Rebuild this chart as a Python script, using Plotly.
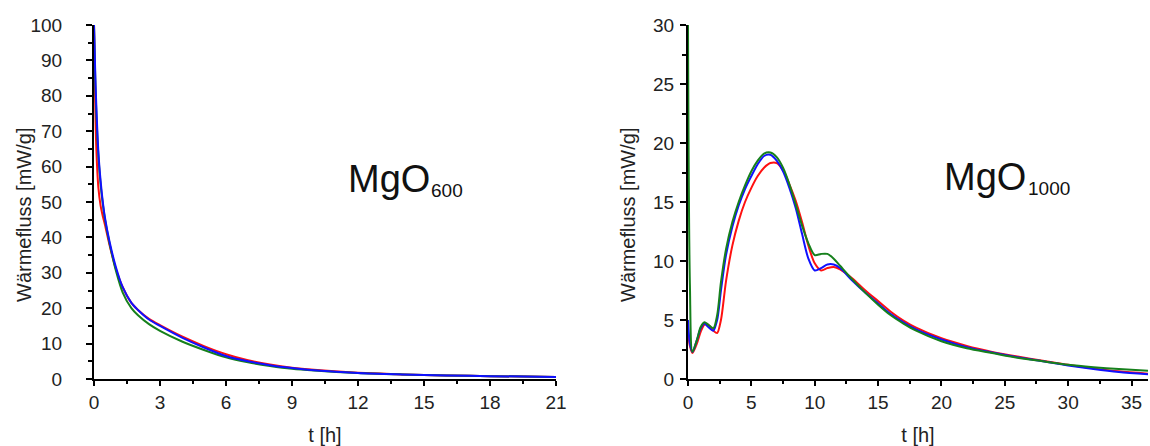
import plotly.graph_objects as go
from plotly.subplots import make_subplots

# ---- data: MgO600 (left) ----
t600 = [0, 0.05, 0.1, 0.2, 0.3, 0.4, 0.5, 0.7, 1.0, 1.3, 1.7, 2.0, 2.5, 3, 4, 5, 6, 7, 8, 9, 10, 12, 14, 16, 18, 21]
red600 = [100, 80, 66, 54, 49, 46, 43.5, 38, 31, 26, 21.5, 19.5, 17, 15.2, 12, 9.3, 7.0, 5.3, 4.1, 3.2, 2.6, 1.8, 1.3, 1.0, 0.8, 0.6]
green600 = [100, 86, 76, 63, 55, 49.5, 45, 38.5, 30.5, 24.5, 20, 18, 15.5, 13.6, 10.6, 8.2, 6.1, 4.7, 3.7, 2.9, 2.4, 1.7, 1.3, 1.0, 0.8, 0.6]
blue600 = [100, 88, 78, 64, 56, 50, 45.5, 39, 31.5, 26, 21.5, 19.5, 16.8, 15.0, 11.7, 8.9, 6.5, 5.0, 3.9, 3.1, 2.5, 1.7, 1.3, 1.0, 0.8, 0.6]

# ---- data: MgO1000 (right) ----
t1000 = [0, 0.15, 0.35, 0.7, 1.0, 1.3, 1.6, 2.0, 2.3, 2.6, 3.0, 3.5, 4.0, 4.5, 5.0, 5.5, 6.0, 6.5, 7.0, 7.5,
         8.0, 8.5, 9.0, 9.5, 10.0, 10.5, 11.0, 11.5, 12.0, 13, 14, 15, 16, 17, 18, 20, 22, 24, 26, 28, 30, 32, 34, 36.3]
red1000 = [4, 2.8, 2.2, 3.0, 4.0, 4.6, 4.6, 4.1, 3.9, 5.0, 8.3, 11.3, 13.4, 15.0, 16.2, 17.2, 17.9, 18.3, 18.3, 17.7,
           16.5, 15.1, 13.3, 11.3, 9.8, 9.2, 9.4, 9.5, 9.3, 8.5, 7.5, 6.6, 5.7, 4.95, 4.35, 3.45, 2.8, 2.3, 1.9, 1.55, 1.2, 0.9, 0.65, 0.45]
green1000 = [30, 8, 2.3, 3.3, 4.4, 4.8, 4.6, 4.3, 5.4, 8.2, 11.0, 13.3, 15.0, 16.4, 17.6, 18.5, 19.1, 19.2, 18.8, 17.9,
             16.5, 14.8, 13.0, 11.5, 10.5, 10.6, 10.6, 10.2, 9.6, 8.4, 7.3, 6.3, 5.4, 4.7, 4.1, 3.2, 2.6, 2.2, 1.8, 1.5, 1.2, 1.0, 0.85, 0.7]
blue1000 = [5, 3.0, 2.3, 3.3, 4.3, 4.7, 4.4, 4.1, 5.0, 7.5, 10.5, 12.9, 14.7, 16.1, 17.2, 18.2, 18.9, 19.0, 18.5, 17.6,
            16.2, 14.5, 12.3, 10.2, 9.2, 9.4, 9.7, 9.7, 9.4, 8.3, 7.3, 6.4, 5.5, 4.8, 4.2, 3.35, 2.7, 2.25, 1.85, 1.5, 1.15, 0.85, 0.6, 0.4]

W, H = 1150, 446
def px(x):
    return x / W
def py(y):
    return 1 - y / H

RED, GREEN, BLUE = "#ff1010", "#16801c", "#1010ff"
FONT = "Liberation Sans, Arial, sans-serif"
TICKF = dict(family=FONT, size=19, color="#222")
TITLEF = dict(family=FONT, size=20, color="#222")

fig = make_subplots(rows=1, cols=2)

for ys, c in [(red600, RED), (green600, GREEN), (blue600, BLUE)]:
    fig.add_trace(go.Scatter(x=t600, y=ys, mode="lines", line=dict(color=c, width=2, shape="spline", smoothing=0.8),
                             showlegend=False), row=1, col=1)
for ys, c in [(red1000, RED), (blue1000, BLUE), (green1000, GREEN)]:
    fig.add_trace(go.Scatter(x=t1000, y=ys, mode="lines", line=dict(color=c, width=2, shape="spline", smoothing=0.8),
                             showlegend=False), row=1, col=2)

ydom = [py(379), py(25)]
axis_common = dict(showline=True, linecolor="black", linewidth=2, ticks="outside", ticklen=6, tickwidth=1.5,
                   tickcolor="black", showgrid=False, zeroline=False, mirror=False, automargin=False,
                   tickfont=TICKF)

fig.update_xaxes(axis_common)
fig.update_yaxes(axis_common)

fig.update_layout(
    xaxis=dict(domain=[px(94), px(556)], range=[0, 21], tick0=0, dtick=3, ticklen=5,
               minor=dict(dtick=1.5, ticks="outside", ticklen=3, tickcolor="black"),
               title=dict(text="t [h]", font=TITLEF, standoff=16)),
    yaxis=dict(domain=ydom, range=[0, 100], tick0=0, dtick=10, ticklabelstandoff=20,
               minor=dict(dtick=5, ticks="outside", ticklen=4, tickcolor="black")),
    xaxis2=dict(domain=[px(688), px(1148)], range=[0, 36.3], tick0=0, dtick=5, ticklen=5,
                minor=dict(dtick=2.5, ticks="outside", ticklen=3, tickcolor="black"),
                title=dict(text="t [h]", font=TITLEF, standoff=16)),
    yaxis2=dict(domain=ydom, range=[0, 30], tick0=0, dtick=5, ticklabelstandoff=2,
                minor=dict(dtick=2.5, ticks="outside", ticklen=4, tickcolor="black")),
    width=W, height=H, margin=dict(l=0, r=0, t=0, b=0),
    paper_bgcolor="white", plot_bgcolor="white",
)

# y-axis titles
for xc in (24, 628):
    fig.add_annotation(text="Wärmefluss [mW/g]", xref="paper", yref="paper", x=px(xc), y=py(215),
                       xanchor="center", yanchor="middle", textangle=-90, showarrow=False, font=TITLEF)

ann_font = dict(family=FONT, size=38, color="#111")
sub_font = dict(family=FONT, size=19, color="#111")
fig.add_annotation(text="MgO", xref="paper", yref="paper", x=px(432), y=py(179), xanchor="right", yanchor="middle",
                   showarrow=False, font=ann_font)
fig.add_annotation(text="600", xref="paper", yref="paper", x=px(429), y=py(190), xanchor="left", yanchor="middle",
                   showarrow=False, font=sub_font)
fig.add_annotation(text="MgO", xref="paper", yref="paper", x=px(1028), y=py(177), xanchor="right", yanchor="middle",
                   showarrow=False, font=ann_font)
fig.add_annotation(text="1000", xref="paper", yref="paper", x=px(1026), y=py(188), xanchor="left", yanchor="middle",
                   showarrow=False, font=sub_font)

fig.write_html("out.html")
